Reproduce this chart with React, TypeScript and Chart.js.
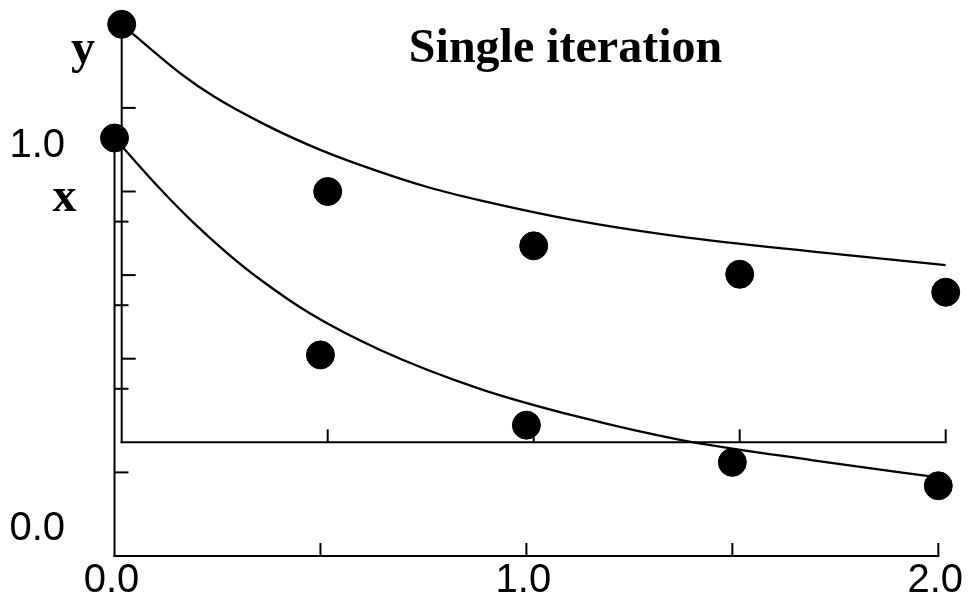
import React, { useEffect, useRef } from "react";
import { Chart, registerables } from "chart.js";

Chart.register(...registerables);

// ---- data ----
const STEP_T = [0, 0.5, 1.0, 1.5, 2.0];
const X_POINTS = [1.0, 0.481, 0.313, 0.224, 0.168];
const Y_POINTS = [1.0, 0.6, 0.47, 0.402, 0.359];

const X_CURVE_T = [0, 0.11, 0.191, 0.272, 0.353, 0.475, 0.645, 0.887, 1.13, 1.373, 1.696, 2.0];
const X_CURVE_V = [1.0, 0.879, 0.798, 0.726, 0.662, 0.58, 0.493, 0.4, 0.332, 0.278, 0.229, 0.188];
const Y_CURVE_T = [0, 0.146, 0.226, 0.348, 0.469, 0.566, 0.748, 0.87, 1.112, 1.355, 1.678, 2.0];
const Y_CURVE_V = [1.0, 0.88, 0.826, 0.76, 0.705, 0.668, 0.609, 0.579, 0.529, 0.492, 0.456, 0.424];

const OUTER_X_TICKS = [0.5, 1.0, 1.5, 2.0];
const OUTER_X_LABELS = ["0.0", "1.0", "2.0"];
const OUTER_X_LABEL_VALUES = [0, 1, 2];
const OUTER_Y_TICKS = [0.2, 0.4, 0.6, 0.8];
const OUTER_Y_LABELS = ["0.0", "1.0"];
const OUTER_Y_LABEL_VALUES = [0, 1];
const INNER_X_TICKS = [0.5, 1.0, 1.5, 2.0];
const INNER_Y_TICKS = [0.2, 0.4, 0.6, 0.8];

const TITLE = "Single iteration";

// ---- geometry of the two coordinate frames ----
const W = 968;
const H = 604;
const AREA = { left: 100, right: 960, top: 10, bottom: 570 };
const OUTER = { x0: 114.5, xUnit: 411.9, y0: 556, yUnit: 418 };
const INNER = { x0: 121.7, xUnit: 412, y0: 442.3, yUnit: 418 };

function rangeX(f: { x0: number; xUnit: number }) {
  return { min: (AREA.left - f.x0) / f.xUnit, max: (AREA.right - f.x0) / f.xUnit };
}
function rangeY(f: { y0: number; yUnit: number }) {
  return { min: (f.y0 - AREA.bottom) / f.yUnit, max: (f.y0 - AREA.top) / f.yUnit };
}

const toXY = (ts: number[], vs: number[]) => ts.map((t, i) => ({ x: t, y: vs[i] }));

const axesPlugin = {
  id: "customAxes",
  beforeDatasetsDraw(chart: any) {
    const ctx = chart.ctx;
    const sx = chart.scales.x, sy = chart.scales.y;
    const ix = chart.scales.x2, iy = chart.scales.y2;
    ctx.save();
    ctx.strokeStyle = "#000";
    ctx.lineWidth = 2;
    ctx.lineCap = "butt";
    const line = (a: number, b: number, c: number, d: number) => {
      ctx.beginPath();
      ctx.moveTo(a, b);
      ctx.lineTo(c, d);
      ctx.stroke();
    };
    // outer frame
    const ox = sx.getPixelForValue(0), oy = sy.getPixelForValue(0);
    line(ox, oy + 1, ox, sy.getPixelForValue(1.0));
    line(ox - 1, oy, sx.getPixelForValue(2.0) + 1, oy);
    OUTER_Y_TICKS.forEach((v) => line(ox, sy.getPixelForValue(v), ox + 14, sy.getPixelForValue(v)));
    OUTER_X_TICKS.forEach((t) => line(sx.getPixelForValue(t), oy, sx.getPixelForValue(t), oy - 13));
    // inner frame
    const jx = ix.getPixelForValue(0), jy = iy.getPixelForValue(0);
    line(jx, jy + 1, jx, iy.getPixelForValue(1.0));
    line(jx - 1, jy, ix.getPixelForValue(2.0) + 1, jy);
    INNER_Y_TICKS.forEach((v) => line(jx, iy.getPixelForValue(v), jx + 14, iy.getPixelForValue(v)));
    INNER_X_TICKS.forEach((t) => line(ix.getPixelForValue(t), jy, ix.getPixelForValue(t), jy - 13));
    ctx.restore();
  },
  afterDraw(chart: any) {
    const ctx = chart.ctx;
    const sx = chart.scales.x, sy = chart.scales.y;
    ctx.save();
    ctx.fillStyle = "#000";
    ctx.font = '40px "Liberation Sans", Arial, sans-serif';
    ctx.textBaseline = "alphabetic";
    ctx.textAlign = "center";
    const oy = sy.getPixelForValue(0);
    OUTER_X_LABELS.forEach((lab, i) => {
      ctx.fillText(lab, sx.getPixelForValue(OUTER_X_LABEL_VALUES[i]) - 3, oy + 36);
    });
    ctx.textAlign = "right";
    const yOffsets = [-16, 19];
    OUTER_Y_LABELS.forEach((lab, i) => {
      ctx.fillText(lab, 65, sy.getPixelForValue(OUTER_Y_LABEL_VALUES[i]) + yOffsets[i]);
    });
    ctx.font = 'bold 48px "Liberation Serif", "Times New Roman", serif';
    ctx.textAlign = "center";
    ctx.fillText(TITLE, 565.5, 62);
    ctx.fillText("y", 83, 63);
    ctx.fillText("x", 64.5, 211);
    ctx.restore();
  },
};

export default function App() {
  const ref = useRef<HTMLCanvasElement | null>(null);
  useEffect(() => {
    if (!ref.current) return;
    const curveStyle = {
      showLine: true,
      pointRadius: 0,
      borderColor: "#000",
      borderWidth: 2.3,
      cubicInterpolationMode: "monotone" as const,
      fill: false,
    };
    const dotStyle = {
      showLine: false,
      pointRadius: 14,
      pointBorderWidth: 1,
      pointBackgroundColor: "#000",
      pointBorderColor: "#000",
    };
    const chart = new Chart(ref.current, {
      type: "scatter",
      data: {
        datasets: [
          { label: "x fit", data: toXY(X_CURVE_T, X_CURVE_V), xAxisID: "x", yAxisID: "y", ...curveStyle },
          { label: "y fit", data: toXY(Y_CURVE_T, Y_CURVE_V), xAxisID: "x2", yAxisID: "y2", ...curveStyle },
          { label: "x", data: toXY(STEP_T, X_POINTS), xAxisID: "x", yAxisID: "y", ...dotStyle },
          { label: "y", data: toXY(STEP_T, Y_POINTS), xAxisID: "x2", yAxisID: "y2", ...dotStyle },
        ],
      },
      options: {
        responsive: false,
        animation: false,
        devicePixelRatio: 1,
        layout: {
          autoPadding: false,
          padding: { left: AREA.left, right: W - AREA.right, top: AREA.top, bottom: H - AREA.bottom },
        },
        clip: false as any,
        plugins: { legend: { display: false }, tooltip: { enabled: false }, title: { display: false } },
        scales: {
          x: { type: "linear", display: false, ...rangeX(OUTER) },
          y: { type: "linear", display: false, ...rangeY(OUTER) },
          x2: { type: "linear", display: false, ...rangeX(INNER) },
          y2: { type: "linear", display: false, ...rangeY(INNER) },
        },
      },
      plugins: [axesPlugin],
    });
    return () => chart.destroy();
  }, []);
  return (
    <div style={{ position: "fixed", left: 0, top: 0, width: W, height: H, background: "#fff" }}>
      <canvas ref={ref} width={W} height={H} style={{ width: W, height: H, display: "block" }} />
    </div>
  );
}
